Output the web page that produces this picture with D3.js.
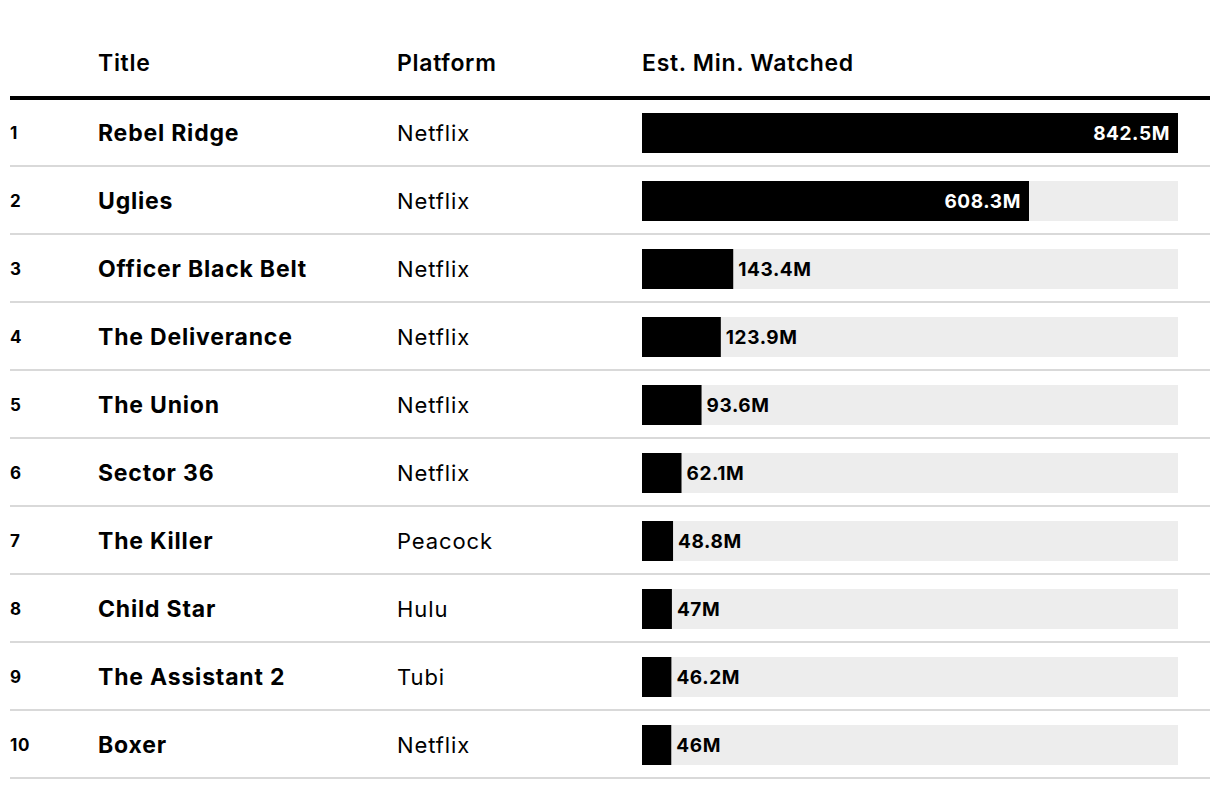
<!DOCTYPE html>
<html>
<head>
<meta charset="utf-8">
<script src="https://cdn.jsdelivr.net/npm/d3@7"></script>
<style>
  html, body { margin: 0; padding: 0; background: #fff; }
  svg text { font-family: Inter, "Liberation Sans", sans-serif; }
</style>
</head>
<body>
<svg id="chart" width="1220" height="790"></svg>
<script>
const ranks = ["1","2","3","4","5","6","7","8","9","10"];
const titles = ["Rebel Ridge","Uglies","Officer Black Belt","The Deliverance","The Union","Sector 36","The Killer","Child Star","The Assistant 2","Boxer"];
const platforms = ["Netflix","Netflix","Netflix","Netflix","Netflix","Netflix","Peacock","Hulu","Tubi","Netflix"];
const minutes = [842.5, 608.3, 143.4, 123.9, 93.6, 62.1, 48.8, 47, 46.2, 46];
const labels = ["842.5M","608.3M","143.4M","123.9M","93.6M","62.1M","48.8M","47M","46.2M","46M"];
const headers = ["Title","Platform","Est. Min. Watched"];

const svg = d3.select("#chart");
const rowTop = 98, rowH = 68;

const y = d3.scaleBand().domain(ranks).range([rowTop, rowTop + rowH * ranks.length]).padding(0);
const x = d3.scaleLinear().domain([0, d3.max(minutes)]).range([642, 1178]);

// headers
const headerX = [98, 397, 642];
svg.selectAll("text.hdr").data(headers).join("text")
  .attr("class","hdr")
  .attr("x", (d,i) => headerX[i]).attr("y", 63)
  .attr("dominant-baseline","central")
  .attr("font-size", 23).attr("font-weight", 600).attr("letter-spacing", 0.7).attr("fill","#000")
  .text(d => d);

svg.append("rect").attr("x",10).attr("y",96).attr("width",1200).attr("height",4).attr("fill","#000");

const data = ranks.map((r,i) => ({rank:r, title:titles[i], platform:platforms[i], v:minutes[i], label:labels[i]}));

const rows = svg.selectAll("g.row").data(data).join("g").attr("class","row")
  .attr("transform", d => `translate(0,${y(d.rank)})`);

const bh = y.bandwidth();
const cy = bh/2 + 1;

rows.append("rect").attr("x",10).attr("y",bh-1).attr("width",1200).attr("height",2).attr("fill","#d9d9d9");

rows.append("text").attr("x",10).attr("y",cy).attr("dominant-baseline","central")
  .attr("font-size",17).attr("font-weight",700).attr("letter-spacing",0.6).text(d => d.rank);
rows.append("text").attr("x",98).attr("y",cy).attr("dominant-baseline","central")
  .attr("font-size",23).attr("font-weight",700).attr("letter-spacing",0.8).text(d => d.title);
rows.append("text").attr("x",397).attr("y",cy).attr("dominant-baseline","central")
  .attr("font-size",22).attr("font-weight",400).attr("letter-spacing",0.9).text(d => d.platform);

rows.append("rect").attr("x",x(0)).attr("y",cy-20).attr("width",x.range()[1]-x(0)).attr("height",40).attr("fill","#ededed");
rows.append("rect").attr("x",x(0)).attr("y",cy-20).attr("width",d => x(d.v)-x(0)).attr("height",40).attr("fill","#000");

rows.append("text")
  .attr("y",cy).attr("dominant-baseline","central")
  .attr("font-size",19).attr("font-weight",700).attr("letter-spacing",0.6)
  .each(function(d){
    const inside = (x(d.v) - x(0)) > 200;
    d3.select(this)
      .attr("x", inside ? x(d.v) - 8 : x(d.v) + 5)
      .attr("text-anchor", inside ? "end" : "start")
      .attr("fill", inside ? "#fff" : "#000")
      .text(d.label);
  });
</script>
</body>
</html>
